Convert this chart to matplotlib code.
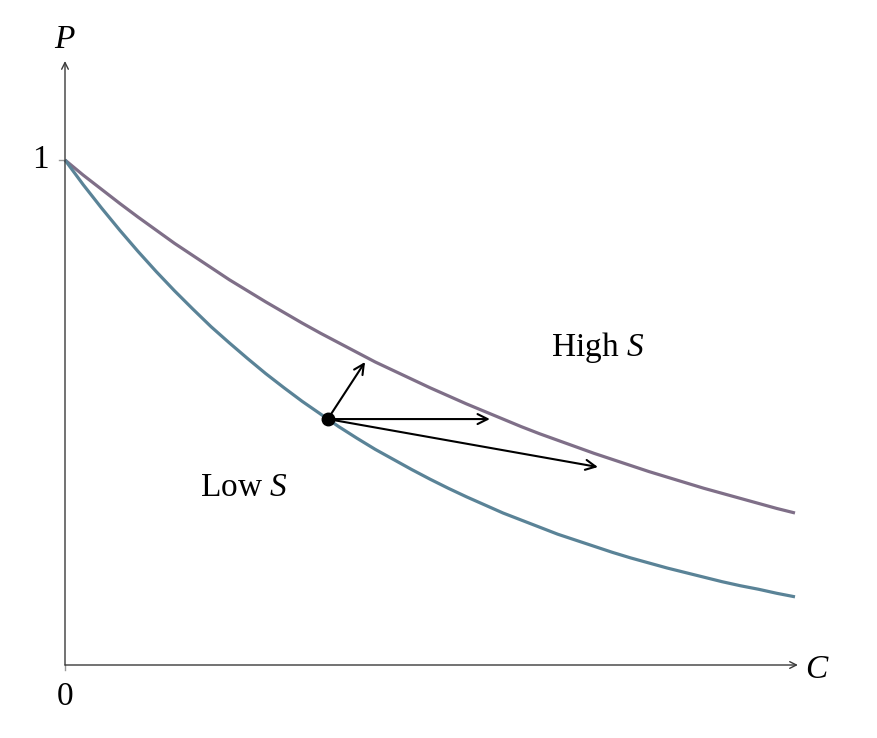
import matplotlib
matplotlib.use("Agg")
import matplotlib.pyplot as plt

plt.rcParams['font.family'] = ['Liberation Serif', 'DejaVu Serif']
plt.rcParams['mathtext.fontset'] = 'custom'
plt.rcParams['mathtext.rm'] = 'Liberation Serif'
plt.rcParams['mathtext.it'] = 'Liberation Serif:italic'

# curves (C scaled to 0..1)
c_vals = [0.0, 0.025, 0.05, 0.075, 0.1, 0.125, 0.15, 0.175, 0.2, 0.225,
          0.25, 0.275, 0.3, 0.325, 0.35, 0.375, 0.4, 0.425, 0.45, 0.475,
          0.5, 0.525, 0.55, 0.575, 0.6, 0.625, 0.65, 0.675, 0.7, 0.725,
          0.75, 0.775, 0.8, 0.825, 0.85, 0.875, 0.9, 0.925, 0.95, 0.975, 1.0]
p_high = [1.0, 0.970, 0.942, 0.914, 0.887, 0.861, 0.835, 0.811, 0.787, 0.763,
          0.741, 0.719, 0.698, 0.677, 0.657, 0.638, 0.619, 0.600, 0.583, 0.566,
          0.549, 0.533, 0.517, 0.502, 0.487, 0.472, 0.458, 0.445, 0.432, 0.419,
          0.407, 0.395, 0.383, 0.372, 0.361, 0.350, 0.340, 0.330, 0.320, 0.310, 0.301]
p_low = [1.0, 0.951, 0.905, 0.861, 0.819, 0.779, 0.741, 0.705, 0.670, 0.638,
         0.607, 0.577, 0.549, 0.522, 0.497, 0.472, 0.449, 0.427, 0.407, 0.387,
         0.368, 0.350, 0.333, 0.317, 0.301, 0.287, 0.273, 0.259, 0.247, 0.235,
         0.223, 0.212, 0.202, 0.192, 0.183, 0.174, 0.165, 0.157, 0.150, 0.142, 0.135]

# the point on the low curve and where the three arrows end
start = (0.360, 0.487)
arrow_ends = [(0.411, 0.600), (0.582, 0.487), (0.730, 0.392)]

fig = plt.figure(figsize=(8.78, 7.38), dpi=100)
ax = fig.add_axes([0, 0, 1, 1])
ax.set_xlim(-65 / 730, 813 / 730)
ax.set_ylim(-73 / 505, 665 / 505)
ax.axis('off')

# axes with arrows
ax.annotate('', xy=(1.004, 0), xytext=(0, 0),
            arrowprops=dict(arrowstyle='->', color='#3a3a3a', lw=1.0, shrinkA=0, shrinkB=0,
                            mutation_scale=12))
ax.annotate('', xy=(0, 1.196), xytext=(0, 0),
            arrowprops=dict(arrowstyle='->', color='#3a3a3a', lw=1.0, shrinkA=0, shrinkB=0,
                            mutation_scale=12))
ax.plot([-0.008, 0], [1, 1], color='#999999', lw=1.0)
ax.plot([0, 0], [0, -0.01], color='#999999', lw=1.0)

ax.plot(c_vals, p_high, color='#7f6f88', lw=2.3, solid_capstyle='butt')
ax.plot(c_vals, p_low, color='#5a8397', lw=2.3, solid_capstyle='butt')

for end in arrow_ends:
    ax.annotate('', xy=end, xytext=start,
                arrowprops=dict(arrowstyle='->', color='black', lw=1.5,
                                shrinkA=0, shrinkB=0, mutation_scale=18))
ax.plot(*start, 'o', color='black', markersize=9)

ax.text(0.730, 0.611, 'High $S$', fontsize=24, ha='center', va='baseline')
ax.text(0.245, 0.334, 'Low $S$', fontsize=24, ha='center', va='baseline')
ax.text(0, 1.222, '$P$', fontsize=24, ha='center', va='baseline')
ax.text(1.030, -0.026, '$C$', fontsize=24, ha='center', va='baseline')
ax.text(-0.033, 1.0, '1', fontsize=24, ha='center', va='center')
ax.text(0, -0.062, '0', fontsize=24, ha='center', va='center')

plt.savefig('out.png', dpi=100)
plt.close()
